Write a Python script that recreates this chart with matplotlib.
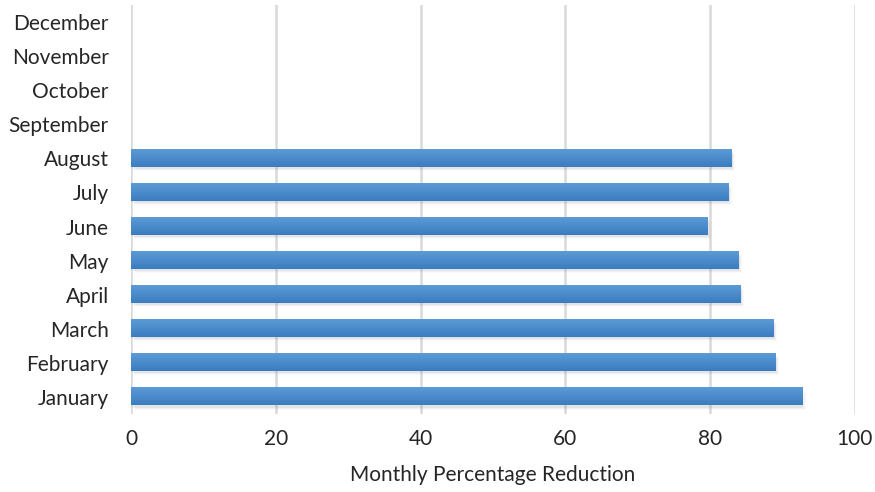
import numpy as np
import matplotlib.pyplot as plt
from matplotlib.colors import LinearSegmentedColormap
from matplotlib.patches import Rectangle

months = ["January", "February", "March", "April", "May", "June",
          "July", "August", "September", "October", "November", "December"]
reduction = [92.7, 89.0, 88.8, 84.2, 83.9, 79.7, 82.6, 83.0]

plt.rcParams['font.family'] = ['Lato', 'DejaVu Sans']

fig = plt.figure(figsize=(8.75, 4.92), dpi=100)
ax = fig.add_axes([0.1497, 0.1585, 0.8273, 0.8315])

ypos = np.arange(len(months))

bars = ax.barh(ypos[:len(reduction)], reduction, height=0.5, color='none', zorder=3)

# soft shadow under each bar
for b in bars:
    x0, y0, w, h = b.get_x(), b.get_y(), b.get_width(), b.get_height()
    for k, a in enumerate([0.10, 0.07, 0.04]):
        ax.add_patch(Rectangle((x0 + 0.2 + 0.15 * k, y0 - 0.06 - 0.03 * k), w, h,
                               color='#808080', alpha=a, lw=0, zorder=2))

cmap = LinearSegmentedColormap.from_list('bl', ['#3a7cc0', '#5d9bd6'])
grad = np.linspace(0, 1, 64).reshape(-1, 1)
for b in bars:
    x0, y0, w, h = b.get_x(), b.get_y(), b.get_width(), b.get_height()
    ax.imshow(grad, cmap=cmap, aspect='auto', origin='lower',
              extent=(x0, x0 + w, y0, y0 + h), zorder=3)

ax.set_xlim(0, 100)
ax.set_ylim(-0.5, len(months) - 0.5)
ax.set_xticks(np.arange(0, 101, 20))
ax.set_yticks(ypos)
ax.set_yticklabels(months)
ax.grid(axis='x', color='#d9d9d9', lw=1.8, zorder=0)
ax.set_axisbelow(True)
for s in ax.spines.values():
    s.set_visible(False)
ax.tick_params(length=0, labelsize=15, colors='#262626')
ax.tick_params(axis='y', pad=16)
ax.tick_params(axis='x', pad=11)
ax.set_xlabel('Monthly Percentage Reduction', fontsize=15, color='#262626', labelpad=11)

fig.savefig('out.png', dpi=100)
